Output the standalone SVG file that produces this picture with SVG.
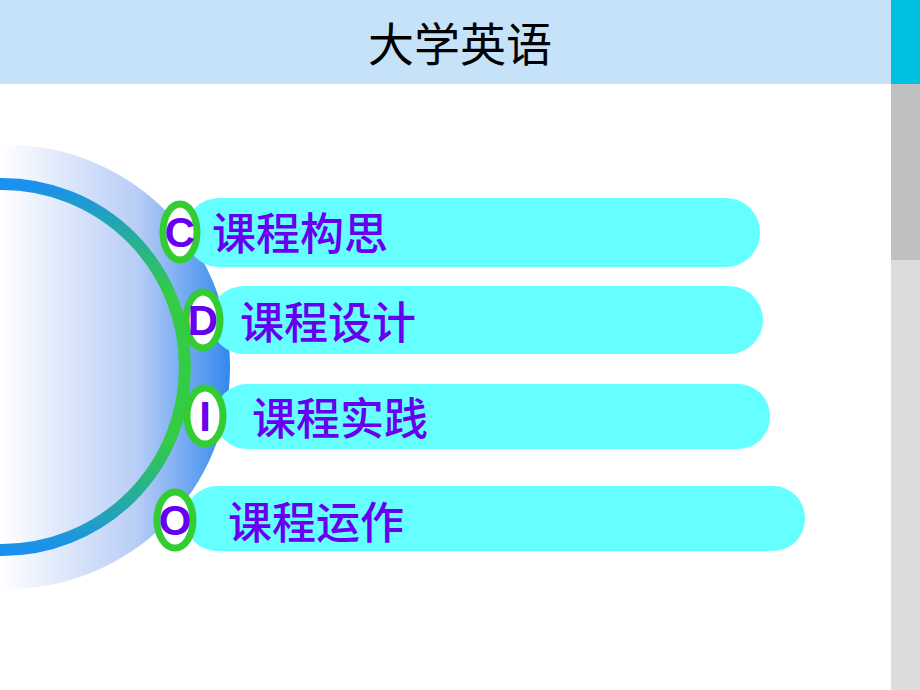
<svg xmlns="http://www.w3.org/2000/svg" width="920" height="690" viewBox="0 0 920 690">
<style>
.pill{fill:#66ffff}
.badge{fill:#fff;stroke:#33cc33;stroke-width:7}
.lt{font-family:"Liberation Sans",Arial,sans-serif;font-weight:bold;font-size:42px;fill:#6600ee;text-anchor:middle}
.cn{font-family:"Noto Sans CJK SC",sans-serif;font-weight:500;font-size:44px;fill:#6600ee}
</style>
<defs>
<linearGradient id="disc" gradientUnits="userSpaceOnUse" x1="0" x2="230" y1="0" y2="0">
<stop offset="0" stop-color="#ffffff"/><stop offset="0.6" stop-color="#b8cdf6"/><stop offset="1" stop-color="#3388ee"/>
</linearGradient>
<linearGradient id="ring" x1="0" x2="0" y1="0" y2="1">
<stop offset="0" stop-color="#1a90f0"/><stop offset="0.3" stop-color="#33cc44"/><stop offset="0.7" stop-color="#33cc44"/><stop offset="1" stop-color="#1a90f0"/>
</linearGradient>
</defs>
<rect width="920" height="690" fill="#fff"/>
<rect width="891" height="84" fill="#c5e2f8"/>
<rect x="891" y="0" width="29" height="84" fill="#00c0e0"/>
<rect x="891" y="84" width="29" height="176" fill="#c0c0c0"/>
<rect x="891" y="260" width="29" height="430" fill="#dcdcdc"/>
<text x="460" y="61" font-family="'Noto Sans CJK SC',sans-serif" font-size="46" text-anchor="middle" fill="#000">大学英语</text>
<circle cx="8" cy="367" r="222" fill="url(#disc)"/>
<circle cx="2" cy="367" r="183" fill="none" stroke="url(#ring)" stroke-width="12"/>
<g id="n1"><rect class="pill" x="185" y="198" width="575" height="69" rx="34"/><ellipse class="badge" cx="180" cy="232" rx="17" ry="28"/><text class="lt" x="180" y="247">C</text><text class="cn" x="212" y="250">课程构思</text></g>
<g id="n2"><rect class="pill" x="210" y="286" width="553" height="68" rx="34"/><ellipse class="badge" cx="203" cy="320" rx="17" ry="28"/><text class="lt" x="203" y="335">D</text><text class="cn" x="240" y="339">课程设计</text></g>
<g id="n3"><rect class="pill" x="215" y="384" width="555" height="65" rx="32"/><ellipse class="badge" cx="205" cy="416" rx="18" ry="28"/><text class="lt" x="205" y="431">I</text><text class="cn" x="252" y="435">课程实践</text></g>
<g id="n4"><rect class="pill" x="185" y="486" width="620" height="65" rx="32"/><ellipse class="badge" cx="175" cy="520" rx="18" ry="28"/><text class="lt" x="175" y="535">O</text><text class="cn" x="228" y="539">课程运作</text></g>
<g id="connectors"/>
</svg>
